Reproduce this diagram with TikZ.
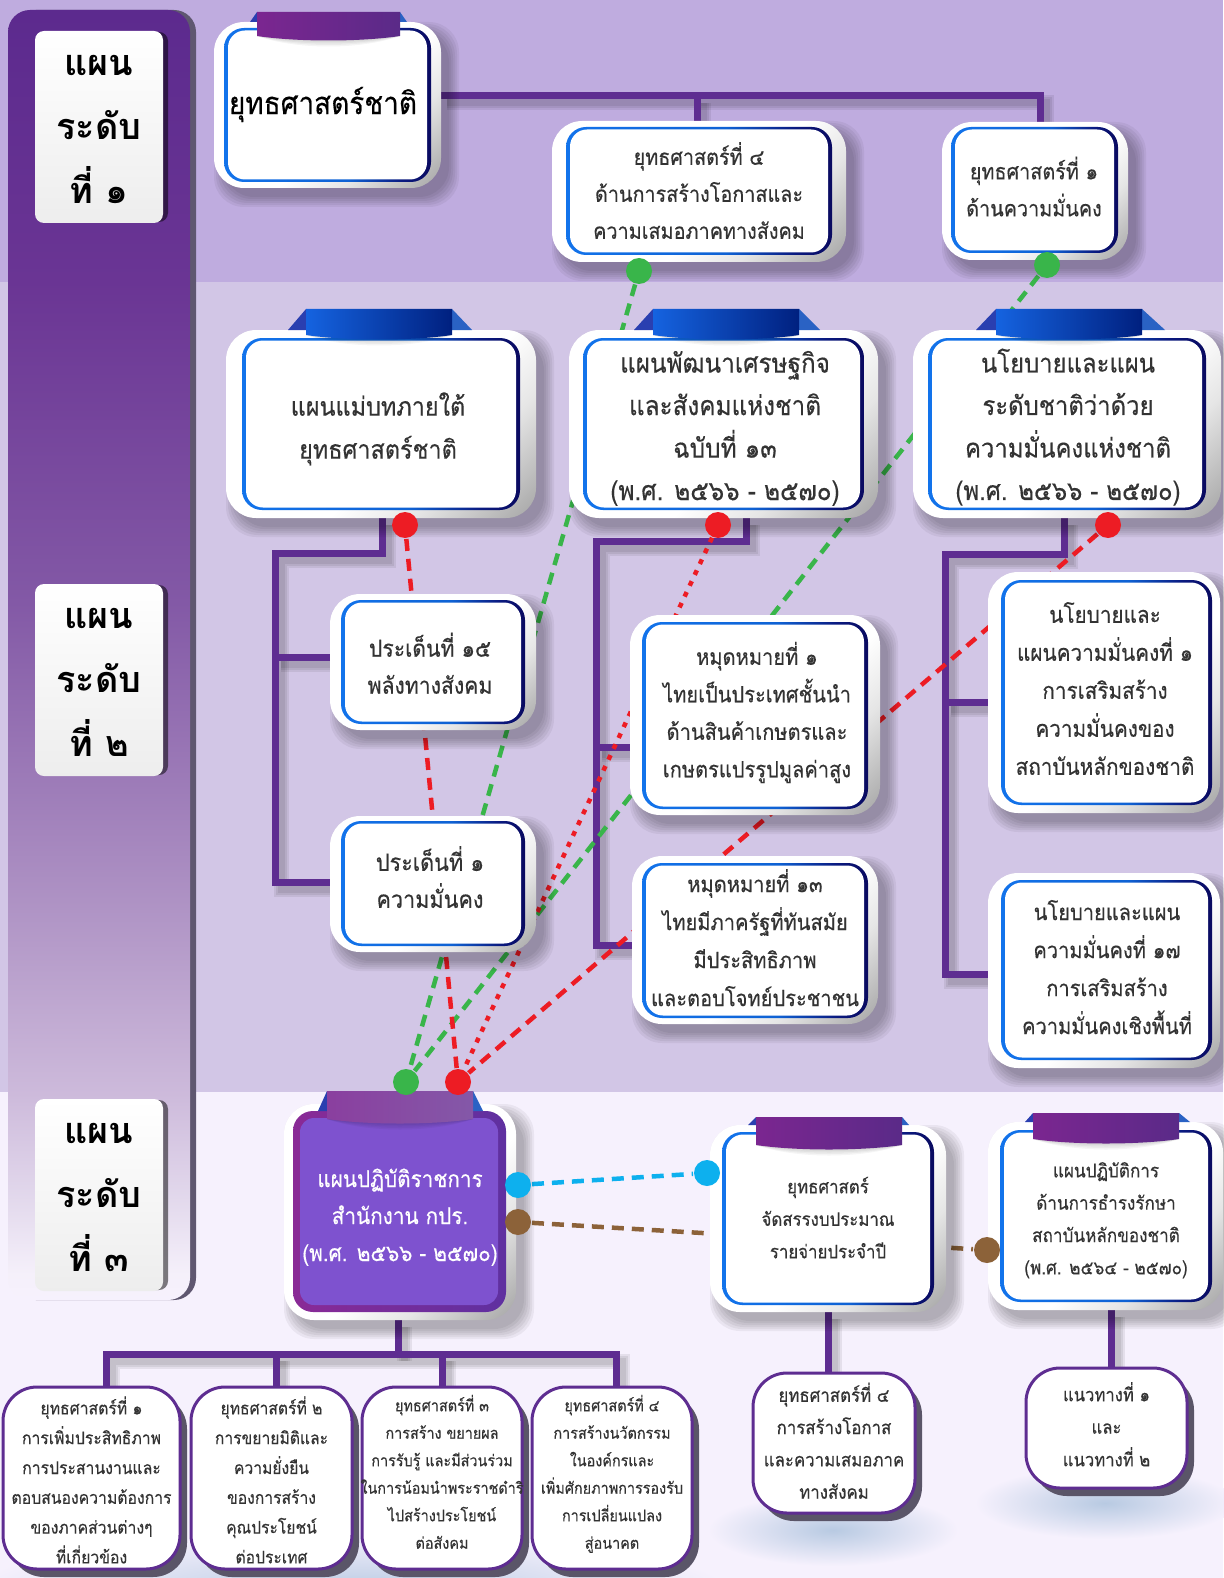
\documentclass[tikz,border=0pt]{standalone}
\usepackage{fontspec}
\newfontfamily\thai[Script=Thai,FakeStretch=0.9,FakeBold=0.35]{Loma}
\newfontfamily\thaiwide[Script=Thai]{Loma}
\definecolor{bgtop}{HTML}{BFACDF}
\definecolor{bgmid}{HTML}{D2C6E6}
\definecolor{bgbot}{HTML}{F6F1FD}
\definecolor{pline}{HTML}{5E2D91}
\definecolor{dred}{HTML}{ED1C24}
\definecolor{dgreen}{HTML}{39B54A}
\definecolor{dcyan}{HTML}{0DB0EE}
\definecolor{dbrown}{HTML}{8C6239}
\definecolor{ribA}{HTML}{7B2690}
\definecolor{ribB}{HTML}{5A2A88}
\definecolor{ribC}{HTML}{1563E0}
\definecolor{ribE}{HTML}{00207F}
\definecolor{ribF}{HTML}{8A3F9F}
\definecolor{ribG}{HTML}{8458A8}
\definecolor{triA}{HTML}{2A3FB0}
\definecolor{triB}{HTML}{2A62C4}
\definecolor{mfill}{HTML}{7E52CF}
\definecolor{sda}{HTML}{5C2A8E}
\definecolor{sdb}{HTML}{6A3594}
\definecolor{sdc}{HTML}{8359A6}
\definecolor{sdd}{HTML}{AE92C4}
\definecolor{sde}{HTML}{CDBADB}
\definecolor{sdf}{HTML}{E2D8EC}
\definecolor{sdg}{HTML}{F5F0FA}
\definecolor{edA}{HTML}{1273EB}
\definecolor{edB}{HTML}{0F62D4}
\definecolor{edC}{HTML}{0A1A80}
\definecolor{edD}{HTML}{0A0A60}
\definecolor{edE}{HTML}{8A2A96}
\definecolor{edF}{HTML}{5F30A0}
\definecolor{shd}{HTML}{5A5568}
\definecolor{glow}{HTML}{B8CAE2}
\definecolor{sideshd}{HTML}{5F5770}
\pgfdeclareverticalshading{sidefade}{100bp}{color(0bp)=(bgbot); color(25bp)=(bgbot); color(26bp)=(sdg); color(29bp)=(sdf); color(33bp)=(sde); color(40.5bp)=(sdd); color(52bp)=(sdc); color(64.5bp)=(sdb); color(75bp)=(sda); color(100bp)=(sda)}
\pgfdeclarehorizontalshading{edgeblue}{100bp}{color(0bp)=(edA); color(25bp)=(edA); color(55bp)=(edB); color(68bp)=(edC); color(75bp)=(edD); color(100bp)=(edD)}
\pgfdeclarehorizontalshading{edgepurple}{100bp}{color(0bp)=(edE); color(25bp)=(edE); color(75bp)=(edF); color(100bp)=(edF)}
\pgfdeclareverticalshading{cardedge}{100bp}{color(0bp)=(black!32); color(17bp)=(black!32); color(32bp)=(black!10); color(44bp)=(white); color(100bp)=(white)}
\pgfdeclarelayer{bglay}
\pgfdeclarelayer{connlay}
\pgfsetlayers{bglay,connlay,main}
\tikzset{
  x=1pt,y=-1pt,
  cardnode/.style={rectangle,inner sep=0pt,outer sep=0pt,text=black!80},
  pathline/.style={line width=7pt,draw=pline,line join=miter},
  phalo/.style={draw=black,opacity=.07},
  dotnode/.style={circle,inner sep=0pt,outer sep=1pt,minimum size=26pt},
  dashlink/.style={line width=4.5pt,dash pattern=on 12pt off 8pt},
  dotlink/.style={line width=4.5pt,dash pattern=on 5pt off 7pt},
  levelnode/.style={rectangle,rounded corners=9pt,inner sep=0pt,top color=white,bottom color=black!7,minimum width=128pt,minimum height=190pt,align=center,font=\thaiwide\bfseries\fontsize{36}{64}\selectfont},
  smallnode/.style={rectangle,rounded corners=34pt,inner sep=0pt,draw=pline,line width=3pt,fill=white},
}
\newcommand{\softsh}[5]{%
  \foreach \k in {0,2,4,6,8,10}{%
    \fill[black,opacity=.05,rounded corners=#5pt] (#1+10-\k,#2+10-\k) rectangle (#3+8+\k,#4+9+\k);}%
}
\newcommand{\cardbg}[8]{%
  \softsh{#1}{#2}{#3}{#4}{30}%
  \shade[rounded corners=30pt,shading=cardedge,shading angle=45] (#1,#2) rectangle (#3,#4);%
  \shade[rounded corners=20pt,shading=edgeblue] (#5,#6) rectangle (#7,#8);%
  \fill[white,rounded corners=17pt] (#5+4,#6+2.5) rectangle (#7-4,#8-2.5);%
  \gdef\Xa{#1}\gdef\Ya{#2}\gdef\Xb{#3}\gdef\Yb{#4}%
}
\newcommand{\cardnd}[6]{%
  \pgfmathsetmacro\cw{\Xb-\Xa}\pgfmathsetmacro\ch{\Yb-\Ya}%
  \pgfmathsetmacro\cx{(\Xa+\Xb)/2}\pgfmathsetmacro\cy{(\Ya+\Yb)/2}%
  \pgfmathsetmacro\ddx{2*(#2-\cx)}\pgfmathsetmacro\ddy{\cy-#3-0.3*#4}%
  \node[cardnode,minimum width=\cw pt,minimum height=\ch pt,font=\thai\fontsize{#4}{#5}\selectfont] (#1) at (\cx,\cy)
   {\makebox[0pt][c]{\hspace{\ddx pt}\raisebox{\ddy pt}[0pt][0pt]{\begin{tabular}{@{}c@{}}#6\end{tabular}}}};%
}
\newcommand{\ribbon}[9]{%
  \fill[triA] (#5,#7) -- (#1,#3) -- (#1,#7) -- cycle;%
  \fill[triB] (#6,#7) -- (#2,#3) -- (#2,#7) -- cycle;%
  \foreach \k in {2,4,6,8}{\fill[black,opacity=.04] (#1,#4-5) -- (#2,#4-5) .. controls (#2-40,#4+1+\k) and (#1+40,#4+1+\k) .. (#1,#4-5) -- cycle;}%
  \shade[left color=#8,right color=#9] (#1,#3) -- (#2,#3) -- (#2,#4-5) .. controls (#2-40,#4+1) and (#1+40,#4+1) .. (#1,#4-5) -- cycle;%
}
\newcommand{\plink}[1]{%
  \foreach \w in {15,11,7}{\draw[phalo,line width=\w pt,transform canvas={xshift=6pt,yshift=-7pt}] #1;}%
  \draw[pathline] #1;%
}
\newcommand{\smallbox}[9]{%
  \fill[shd,rounded corners=34pt] (#2+7,#3+8) rectangle (#4+7,#5+8);%
  \pgfmathsetmacro\cw{#4-#2}\pgfmathsetmacro\ch{#5-#3}%
  \pgfmathsetmacro\cx{(#2+#4)/2}\pgfmathsetmacro\cy{(#3+#5)/2}%
  \pgfmathsetmacro\ddy{\cy-#6-0.3*#7}%
  \node[smallnode,minimum width=\cw pt,minimum height=\ch pt,font=\thai\fontsize{#7}{#8}\selectfont,text=black!80] (#1) at (\cx,\cy)
   {\makebox[0pt][c]{\raisebox{\ddy pt}[0pt][0pt]{\begin{tabular}{@{}c@{}}#9\end{tabular}}}};%
}
\begin{document}
\begin{tikzpicture}
\useasboundingbox (0,0) rectangle (1223,1578);
\begin{pgfonlayer}{bglay}
  \fill[bgtop] (0,0) rectangle (1223,282);
  \fill[bgmid] (0,282) rectangle (1223,1092);
  \fill[bgbot] (0,1092) rectangle (1223,1578);
  \shade[inner color=glow,outer color=bgbot] (350,1592) ellipse (380 and 60);
  \shade[inner color=glow,outer color=bgbot] (833,1530) ellipse (125 and 36);
  \shade[inner color=glow,outer color=bgbot] (1105,1503) ellipse (130 and 36);
  \fill[sideshd,rounded corners=22pt] (14,10) rectangle (196,1300);
  \shade[shading=sidefade,rounded corners=22pt] (8,10) rectangle (190,1300);
  \fill[black,opacity=.5,rounded corners=9pt] (40,32) rectangle (168,222);
  \fill[black,opacity=.5,rounded corners=9pt] (40,585) rectangle (168,775);
  \fill[black,opacity=.5,rounded corners=9pt] (40,1100) rectangle (168,1290);
\end{pgfonlayer}

% level labels
\node[levelnode] (lv1) at (99,127) {\raisebox{-3pt}{\begin{tabular}{@{}c@{}}แผน\\ระดับ\\ที่ ๑\end{tabular}}};
\node[levelnode] (lv2) at (99,680) {\raisebox{-3pt}{\begin{tabular}{@{}c@{}}แผน\\ระดับ\\ที่ ๒\end{tabular}}};
\node[levelnode] (lv3) at (99,1195) {\raisebox{-3pt}{\begin{tabular}{@{}c@{}}แผน\\ระดับ\\ที่ ๓\end{tabular}}};

% level 1 cards
\cardbg{214}{22}{441}{188}{224}{28}{431}{182}
\ribbon{257}{400}{12}{41}{250}{407}{22}{ribA}{ribB}
\cardnd{natl}{323}{103}{31}{40}{\color{black}ยุทธศาสตร์ชาติ}
\cardbg{552}{121}{846}{262}{566}{127}{832}{255}
\cardnd{st4}{699}{193}{22}{37}{ยุทธศาสตร์ที่ ๔\\ด้านการสร้างโอกาสและ\\ความเสมอภาคทางสังคม}
\cardbg{942}{122}{1128}{260}{951}{127}{1118}{253}
\cardnd{st1}{1034}{189}{22}{37}{ยุทธศาสตร์ที่ ๑\\ด้านความมั่นคง}

% level 2 cards
\cardbg{226}{330}{536}{518}{242}{338}{520}{510}
\ribbon{306}{452}{309}{340}{288}{472}{330}{ribC}{ribE}
\cardnd{master}{378}{427}{26}{43}{แผนแม่บทภายใต้\\ยุทธศาสตร์ชาติ}
\cardbg{569}{330}{878}{518}{583}{338}{864}{510}
\ribbon{653}{799}{309}{340}{634}{820}{330}{ribC}{ribE}
\cardnd{nesdp}{725}{426}{27}{42.5}{แผนพัฒนาเศรษฐกิจ\\และสังคมแห่งชาติ\\ฉบับที่ ๑๓\\(พ.ศ. ๒๕๖๖ - ๒๕๗๐)}
\cardbg{913}{330}{1221}{518}{928}{338}{1206}{510}
\ribbon{996}{1142}{309}{340}{976}{1165}{330}{ribC}{ribE}
\cardnd{secplan}{1068}{426}{26.5}{42.5}{นโยบายและแผน\\ระดับชาติว่าด้วย\\ความมั่นคงแห่งชาติ\\(พ.ศ. ๒๕๖๖ - ๒๕๗๐)}

\cardbg{330}{594}{536}{730}{341}{600}{525}{724}
\cardnd{is15}{430}{667}{23.5}{37}{ประเด็นที่ ๑๕\\พลังทางสังคม}
\cardbg{330}{816}{536}{952}{341}{821}{525}{946}
\cardnd{is1}{430}{881}{24}{37}{ประเด็นที่ ๑\\ความมั่นคง}
\cardbg{630}{615}{880}{815}{642}{622}{868}{809}
\cardnd{mm1}{757}{712}{22.3}{37.5}{หมุดหมายที่ ๑\\ไทยเป็นประเทศชั้นนำ\\ด้านสินค้าเกษตรและ\\เกษตรแปรรูปมูลค่าสูง}
\cardbg{632}{856}{878}{1024}{642}{863}{868}{1018}
\cardnd{mm13}{755}{940}{22.3}{38}{หมุดหมายที่ ๑๓\\ไทยมีภาครัฐที่ทันสมัย\\มีประสิทธิภาพ\\และตอบโจทย์ประชาชน}
\cardbg{988}{572}{1220}{813}{1001}{580}{1212}{805}
\cardnd{pol1}{1105}{690.5}{23}{38}{นโยบายและ\\แผนความมั่นคงที่ ๑\\การเสริมสร้าง\\ความมั่นคงของ\\สถาบันหลักของชาติ}
\cardbg{988}{873}{1220}{1068}{1001}{880}{1212}{1060}
\cardnd{pol17}{1107}{968}{22.3}{38}{นโยบายและแผน\\ความมั่นคงที่ ๑๗\\การเสริมสร้าง\\ความมั่นคงเชิงพื้นที่}

% level 3 cards
\softsh{284}{1104}{516}{1320}{30}
\shade[rounded corners=30pt,shading=cardedge,shading angle=45] (284,1104) rectangle (516,1320);
\shade[rounded corners=20pt,shading=edgepurple] (293,1111) rectangle (506,1312);
\fill[mfill,rounded corners=14pt] (300,1118) rectangle (498,1305);
\ribbon{327}{473}{1091}{1124}{318}{483}{1111}{ribF}{ribG}
\gdef\Xa{284}\gdef\Ya{1104}\gdef\Xb{516}\gdef\Yb{1320}
\cardnd{opsm}{400}{1216}{23}{37}{\color{white}แผนปฏิบัติราชการ\\\color{white}สำนักงาน กปร.\\\color{white}(พ.ศ. ๒๕๖๖ - ๒๕๗๐)}
\cardbg{710}{1125}{946}{1312}{722}{1132}{934}{1305}
\ribbon{756}{902}{1117}{1150}{748}{909}{1125}{ribA}{ribB}
\cardnd{budget}{828}{1218}{18.7}{32.5}{ยุทธศาสตร์\\จัดสรรงบประมาณ\\รายจ่ายประจำปี}
\cardbg{988}{1122}{1223}{1310}{1000}{1130}{1212}{1302}
\ribbon{1033}{1179}{1113}{1144}{1025}{1190}{1122}{ribA}{ribB}
\cardnd{oper}{1106}{1218}{19}{32.3}{แผนปฏิบัติการ\\ด้านการธำรงรักษา\\สถาบันหลักของชาติ\\(พ.ศ. ๒๕๖๔ - ๒๕๗๐)}

% bottom boxes
\smallbox{p1}{3}{1387}{180}{1569}{1482}{17.5}{29.8}{ยุทธศาสตร์ที่ ๑\\การเพิ่มประสิทธิภาพ\\การประสานงานและ\\ตอบสนองความต้องการ\\ของภาคส่วนต่างๆ\\ที่เกี่ยวข้อง}
\smallbox{p2}{191}{1387}{352}{1569}{1482}{17.4}{29.8}{ยุทธศาสตร์ที่ ๒\\การขยายมิติและ\\ความยั่งยืน\\ของการสร้าง\\คุณประโยชน์\\ต่อประเทศ}
\smallbox{p3}{362}{1387}{522}{1569}{1474}{16}{27.5}{ยุทธศาสตร์ที่ ๓\\การสร้าง ขยายผล\\การรับรู้ และมีส่วนร่วม\\ในการน้อมนำพระราชดำริ\\ไปสร้างประโยชน์\\ต่อสังคม}
\smallbox{p4}{532}{1387}{692}{1569}{1474}{16}{27.5}{ยุทธศาสตร์ที่ ๔\\การสร้างนวัตกรรม\\ในองค์กรและ\\เพิ่มศักยภาพการรองรับ\\การเปลี่ยนแปลง\\สู่อนาคต}
\smallbox{qq}{753}{1373}{915}{1513}{1442.5}{18.7}{32.3}{ยุทธศาสตร์ที่ ๔\\การสร้างโอกาส\\และความเสมอภาค\\ทางสังคม}
\smallbox{rr}{1026}{1368}{1187}{1488}{1426}{18.5}{32.5}{แนวทางที่ ๑\\และ\\แนวทางที่ ๒}

% dots
\node[dotnode,fill=dgreen] (g1) at (639,271) {};
\node[dotnode,fill=dgreen] (g2) at (1047,265) {};
\node[dotnode,fill=dred] (r1) at (405,525) {};
\node[dotnode,fill=dred] (r2) at (718,525) {};
\node[dotnode,fill=dred] (r3) at (1108,525) {};
\node[dotnode,fill=dgreen] (gm) at (406,1082) {};
\node[dotnode,fill=dred] (rm) at (458,1082) {};
\node[dotnode,fill=dcyan] (c1) at (518,1185) {};
\node[dotnode,fill=dcyan] (c2) at (707,1173) {};
\node[dotnode,fill=dbrown] (b1) at (518,1222) {};
\node[dotnode,fill=dbrown] (b2) at (987,1250) {};

\begin{pgfonlayer}{connlay}
  \coordinate (t1) at (1040,96);
  \coordinate (t2) at (697,96);
  \plink{([yshift=9pt]natl.east) -- (t1) -- (t1 |- st1.north)}
  \plink{(t2) -- (t2 |- st4.north)}
  \coordinate (d1) at (382,553);
  \coordinate (d2) at (275,553);
  \plink{(d1 |- master.south) -- (d1) -- (d2) -- ([yshift=2pt]d2 |- is1.west) -- ([yshift=2pt]is1.west)}
  \plink{([yshift=5pt]d2 |- is15.west) -- ([yshift=5pt]is15.west)}
  \coordinate (e1) at (746,541);
  \coordinate (e2) at (596,541);
  \plink{(e1 |- nesdp.south) -- (e1) -- (e2) -- ([yshift=-5pt]e2 |- mm13.west) -- ([yshift=-5pt]mm13.west)}
  \plink{([yshift=-32pt]e2 |- mm1.west) -- ([yshift=-32pt]mm1.west)}
  \coordinate (f1) at (1064,554);
  \coordinate (f2) at (945,554);
  \plink{(f1 |- secplan.south) -- (f1) -- (f2) -- ([yshift=-4pt]f2 |- pol17.west) -- ([yshift=-4pt]pol17.west)}
  \plink{([yshift=-9.5pt]f2 |- pol1.west) -- ([yshift=-9.5pt]pol1.west)}
  \coordinate (m1) at (398,1354);
  \coordinate (m0) at (106,1354);
  \coordinate (m2) at (276,1354);
  \coordinate (m3) at (442,1354);
  \coordinate (m4) at (616,1354);
  \plink{(m1 |- opsm.south) -- (m1)}
  \plink{(m0 |- p1.north) -- (m0) -- (m4) -- (m4 |- p4.north)}
  \plink{(m2) -- (m2 |- p2.north)}
  \plink{(m3) -- (m3 |- p3.north)}
  \plink{(budget.south) -- (budget.south |- qq.north)}
  \plink{([xshift=6pt]oper.south) -- ([xshift=6pt]oper.south |- rr.north)}
  \draw[dgreen,dashlink] (g1) -- (gm);
  \draw[dgreen,dashlink] (g2) -- (gm);
  \draw[dred,dashlink] (r1) -- (rm);
  \draw[dred,dotlink] (r2) -- (rm);
  \draw[dred,dashlink] (r3) -- (rm);
  \draw[dcyan,dashlink] (c1) -- (c2);
  \draw[dbrown,dashlink] (b1) -- (b2);
\end{pgfonlayer}
\end{tikzpicture}
\end{document}
